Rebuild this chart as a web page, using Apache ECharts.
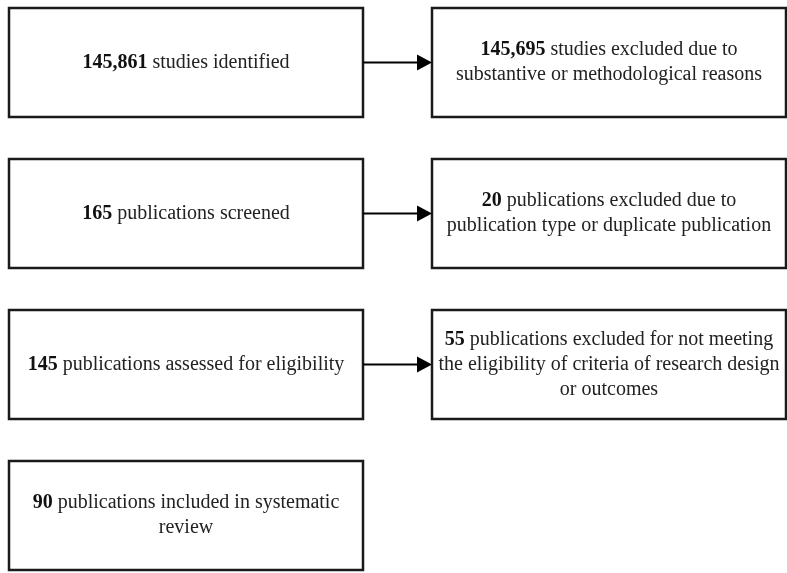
<!DOCTYPE html>
<html><head><meta charset="utf-8">
<script src="https://cdn.jsdelivr.net/npm/echarts@6/dist/echarts.min.js"></script>
<style>html,body{margin:0;padding:0;background:#fff}#c{width:787px;height:573px}</style>
</head><body><div id="c"></div>
<script>
// Flow stages (left column) and exclusions (right column)
const stageCounts = ['145,861', '165', '145', '90'];
const stageTexts = [
  ' studies identified',
  ' publications screened',
  ' publications assessed for eligibility',
  ' publications included in systematic\nreview'
];
const excludedCounts = ['145,695', '20', '55'];
const excludedTexts = [
  ' studies excluded due to\nsubstantive or methodological reasons',
  ' publications excluded due to\npublication type or duplicate publication',
  ' publications excluded for not meeting\nthe eligibility of criteria of research design\nor outcomes'
];

const boxes = [];
stageCounts.forEach((c, i) => boxes.push([0, i, c, stageTexts[i]]));
excludedCounts.forEach((c, i) => boxes.push([1, i, c, excludedTexts[i]]));
const arrows = excludedCounts.map((c, i) => [i]);

const COL_X = [[9, 363], [432, 786]];
const ROW_TOP = 8, ROW_STEP = 151, BOX_H = 109;
const FONT = '"Liberation Serif", "DejaVu Serif", serif';

const chart = echarts.init(document.getElementById('c'), null, {renderer: 'canvas'});
chart.setOption({
  animation: false,
  grid: {left: 0, right: 0, top: 0, bottom: 0},
  xAxis: {type: 'value', min: 0, max: 787, show: false},
  yAxis: {type: 'value', min: 0, max: 573, inverse: true, show: false},
  series: [
    {
      type: 'custom',
      coordinateSystem: 'cartesian2d',
      data: boxes,
      renderItem: function (params, api) {
        const col = api.value(0), row = api.value(1);
        const d = boxes[params.dataIndex];
        const top = ROW_TOP + ROW_STEP * row;
        const p0 = api.coord([COL_X[col][0], top]);
        const p1 = api.coord([COL_X[col][1], top + BOX_H]);
        return {
          type: 'group',
          children: [
            {
              type: 'rect',
              shape: {x: p0[0], y: p0[1], width: p1[0] - p0[0], height: p1[1] - p0[1]},
              style: {fill: '#fff', stroke: '#1a1a1a', lineWidth: 2.5}
            },
            {
              type: 'text',
              x: (p0[0] + p1[0]) / 2,
              y: (p0[1] + p1[1]) / 2,
              style: {
                text: '{b|' + d[2] + '}' + d[3].split('\n').map((s, k) => '{r|' + s + '}').join('\n'),
                align: 'center',
                verticalAlign: 'middle',
                rich: {
                  b: {fontFamily: FONT, fontSize: 20, fontWeight: 'bold', fill: '#111', lineHeight: 25},
                  r: {fontFamily: FONT, fontSize: 20, fill: '#222', lineHeight: 25}
                }
              }
            }
          ]
        };
      }
    },
    {
      type: 'custom',
      coordinateSystem: 'cartesian2d',
      data: arrows,
      renderItem: function (params, api) {
        const row = api.value(0);
        const yc = ROW_TOP + ROW_STEP * row + BOX_H / 2;
        const a = api.coord([COL_X[0][1], yc]);
        const b = api.coord([COL_X[1][0], yc]);
        const headLen = 15, headHalf = 8;
        return {
          type: 'group',
          children: [
            {type: 'line', shape: {x1: a[0], y1: a[1], x2: b[0] - headLen + 1, y2: b[1]},
             style: {stroke: '#000', lineWidth: 2}},
            {type: 'polygon', shape: {points: [[b[0], b[1]], [b[0] - headLen, b[1] - headHalf], [b[0] - headLen, b[1] + headHalf]]},
             style: {fill: '#000'}}
          ]
        };
      }
    }
  ]
});
</script></body></html>
